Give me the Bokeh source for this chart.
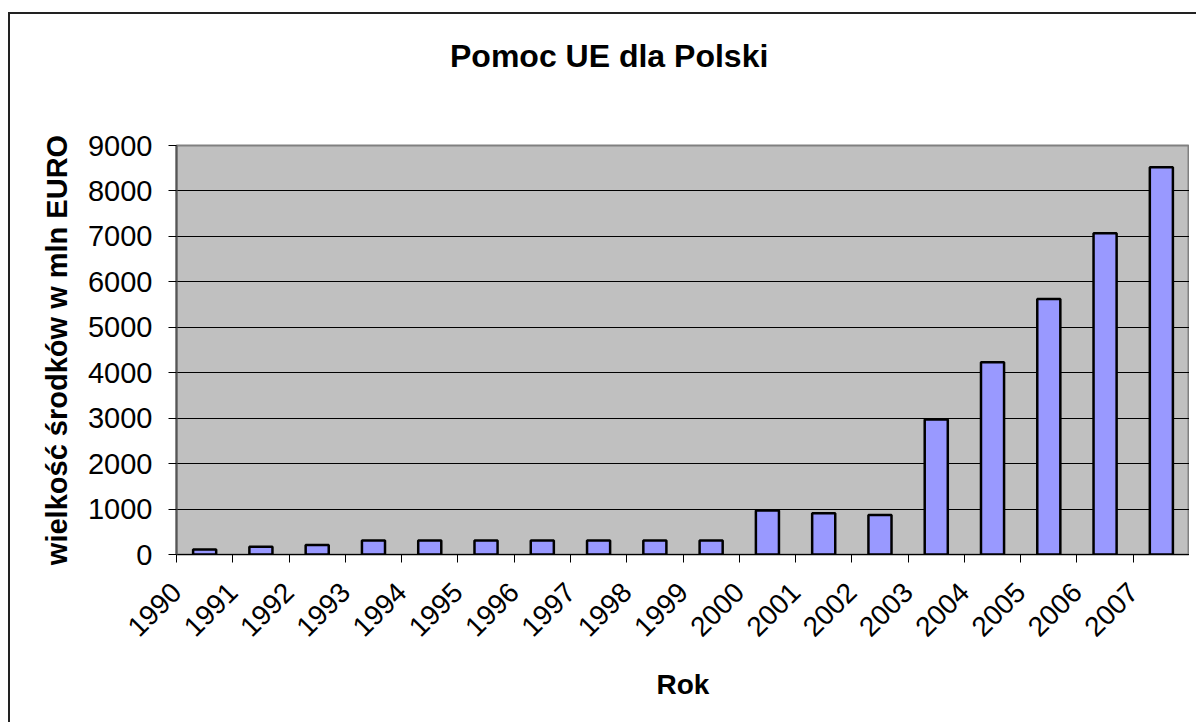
from bokeh.plotting import figure
from bokeh.models import Range1d, FixedTicker, ColumnDataSource, Div
from bokeh.layouts import column
from bokeh.embed import file_html
from bokeh.resources import INLINE

# ---- data ----
years = ["1990", "1991", "1992", "1993", "1994", "1995", "1996", "1997", "1998",
         "1999", "2000", "2001", "2002", "2003", "2004", "2005", "2006", "2007"]
values = [110, 170, 210, 310, 310, 310, 310, 310, 310,
          310, 970, 910, 870, 2970, 4230, 5620, 7070, 8520]
y_ticks = [0, 1000, 2000, 3000, 4000, 5000, 6000, 7000, 8000, 9000]

title_text = "Pomoc UE dla Polski"
x_label = "Rok"
y_label = "wielkość środków w mln EURO"

FONT = "Liberation Sans"

positions = [i + 0.5 for i in range(len(years))]
source = ColumnDataSource(data=dict(x=positions, top=values, year=years))

title_div = Div(
    text=('<div style="margin:15px 0 0 435px; font-family:\'Liberation Sans\'; '
          'font-weight:bold; font-size:32px; color:black; white-space:nowrap;">'
          + title_text + '</div>'),
    width=1179, height=100)

p = figure(width=1179, height=598, output_backend="svg", toolbar_location=None,
           x_range=Range1d(0, len(years)), y_range=Range1d(0, 9000),
           min_border_left=166, min_border_right=0, min_border_top=21,
           min_border_bottom=168)

p.background_fill_color = "#C0C0C0"
p.border_fill_color = "white"
p.outline_line_color = "#808080"
p.outline_line_width = 2

p.vbar(x="x", top="top", bottom=0, width=0.41, source=source,
       fill_color="#9999FF", line_color="black", line_width=2.5)

# x axis
xa = p.xaxis[0]
xa.ticker = FixedTicker(ticks=list(range(len(years) + 1)))
overrides = {i: y for i, y in enumerate(years)}
overrides[len(years)] = ""
xa.major_label_overrides = overrides
xa.major_label_orientation = 0.785398
xa.major_label_text_font = FONT
xa.major_label_text_font_size = "28px"
xa.major_label_text_color = "black"
xa.major_label_standoff = 25
xa.major_tick_out = 8
xa.major_tick_in = 0
xa.minor_tick_out = 0
xa.minor_tick_in = 0
xa.axis_line_color = "black"
xa.axis_line_width = 1
xa.major_tick_line_color = "black"
xa.axis_label = x_label
xa.axis_label_text_font = FONT
xa.axis_label_text_font_size = "28px"
xa.axis_label_text_font_style = "bold"
xa.axis_label_text_color = "black"
xa.axis_label_standoff = 21

# y axis
ya = p.yaxis[0]
ya.ticker = FixedTicker(ticks=y_ticks)
ya.major_label_text_font = FONT
ya.major_label_text_font_size = "29px"
ya.major_label_text_color = "black"
ya.major_label_standoff = 16
ya.major_tick_out = 8
ya.major_tick_in = 0
ya.minor_tick_out = 0
ya.minor_tick_in = 0
ya.axis_line_color = "#555555"
ya.axis_line_width = 2
ya.major_tick_line_color = "black"
ya.axis_label = y_label
ya.axis_label_text_font = FONT
ya.axis_label_text_font_size = "29px"
ya.axis_label_text_font_style = "bold"
ya.axis_label_text_color = "black"
ya.axis_label_standoff = 12

p.xgrid.grid_line_color = None
p.ygrid.grid_line_color = "black"
p.ygrid.grid_line_width = 1
p.ygrid.ticker = FixedTicker(ticks=y_ticks)

layout = column(title_div, p, spacing=0)
layout.styles = {"border-left": "2px solid #222222", "border-top": "2px solid #222222",
                 "margin-top": "12px", "margin-left": "8px", "background": "white"}

open("out.html", "w").write(file_html(layout, INLINE))
